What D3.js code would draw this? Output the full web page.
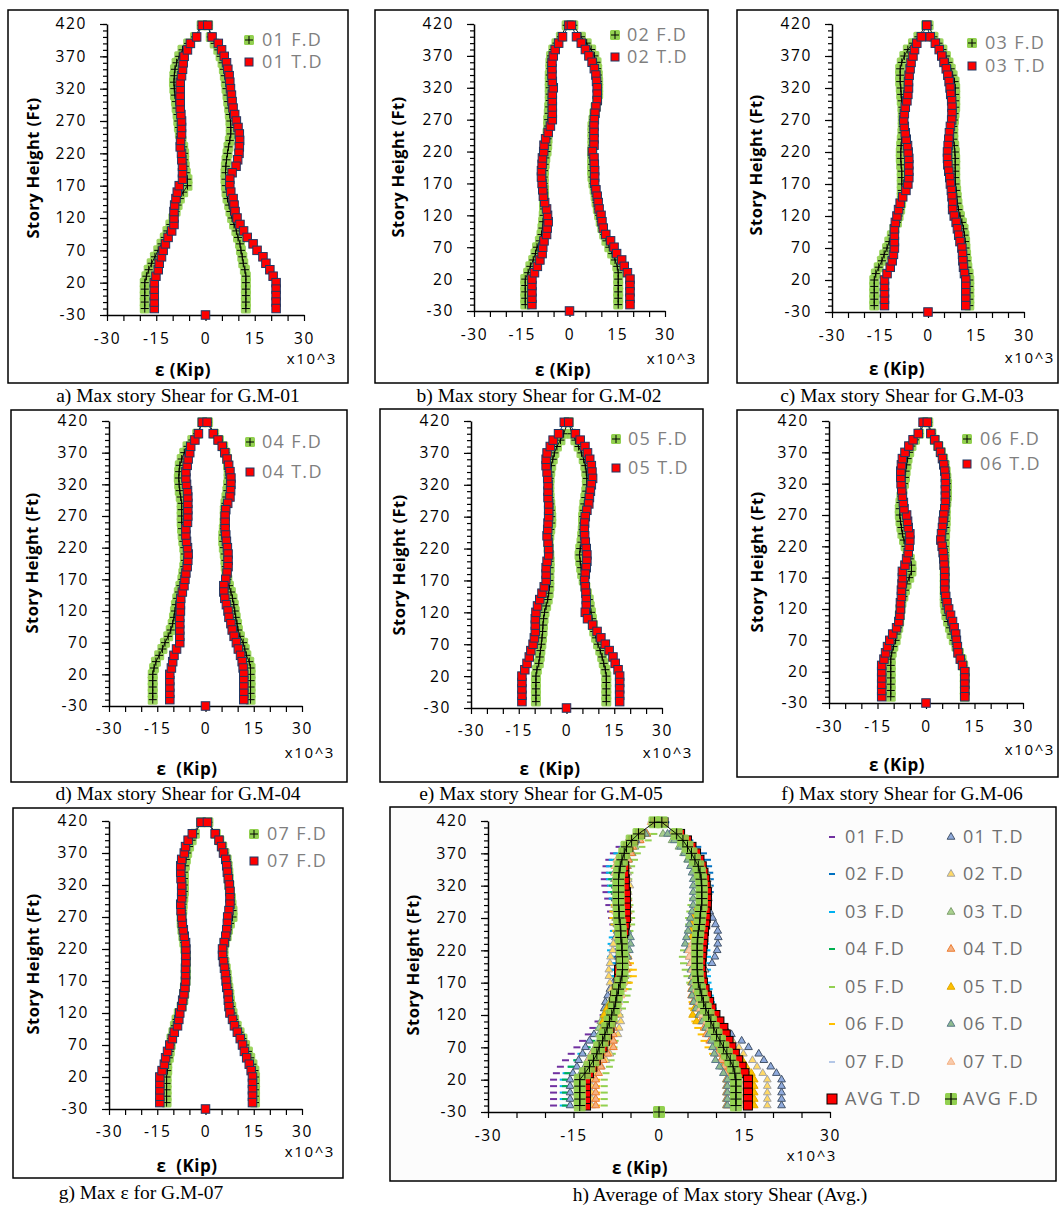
<!DOCTYPE html>
<html>
<head>
<meta charset="utf-8">
<script src="https://cdn.jsdelivr.net/npm/d3@7"></script>
<style>
  body { margin: 0; background: #fff; }
  text { font-family: "Open Sans", sans-serif; }
</style>
</head>
<body>
<svg id="fig" width="1061" height="1206"></svg>
<script>
// story levels (ft): -20 .. 400 every 10, then roof
const heights = [-20, -10, 0, 10, 20, 30, 40, 50, 60, 70, 80, 90, 100, 110, 120, 130, 140, 150, 160, 170,
  180, 190, 200, 210, 220, 230, 240, 250, 260, 270, 280, 290, 300, 310, 320, 330, 340, 350, 360, 370,
  380, 390, 400, 418];
const basePoint = [0, -30];

const yTicks = [420, 370, 320, 270, 220, 170, 120, 70, 20, -30];
const yMinorTicks = [-30, -20, -10, 0, 10, 20, 30, 40, 50, 60, 70, 80, 90, 100, 110, 120, 130, 140, 150, 160,
  170, 180, 190, 200, 210, 220, 230, 240, 250, 260, 270, 280, 290, 300, 310, 320, 330, 340, 350, 360,
  370, 380, 390, 400, 410, 420];
const xTicks = [-30, -15, 0, 15, 30];
const xMinorTicks = [-30, -25, -20, -15, -10, -5, 0, 5, 10, 15, 20, 25, 30];

// G.M-01
const fdLeft01 = [-18.5, -18.5, -18.5, -18.5, -18.5, -18.0, -17.3, -16.4, -15.4, -14.4, -13.4, -12.4, -11.6, -10.7, -9.8,
  -9.1, -8.5, -7.8, -6.8, -5.5, -5.5, -6.0, -6.3, -6.5, -6.5, -6.8, -7.3, -7.8, -8.1, -8.3,
  -8.5, -8.8, -9.0, -9.3, -9.5, -9.6, -9.5, -9.3, -8.8, -8.0, -7.0, -5.3, -3.2, -1.2];
const fdRight01 = [12.3, 12.3, 12.3, 12.3, 12.3, 12.3, 12.0, 11.5, 11.2, 10.8, 10.5, 9.9, 9.4, 8.7, 8.1,
  7.6, 7.2, 6.7, 6.4, 6.2, 6.1, 6.1, 6.2, 6.4, 6.7, 7.0, 7.4, 7.7, 7.7, 7.6,
  7.4, 7.2, 6.9, 6.7, 6.4, 6.2, 5.9, 5.6, 5.2, 4.6, 3.9, 2.8, 1.6, 0.8];
const tdLeft01 = [-15.6, -15.6, -15.6, -15.6, -15.6, -15.1, -14.4, -14.1, -13.4, -12.9, -12.2, -11.4, -10.3, -9.6, -9.6,
  -9.6, -9.4, -9.0, -8.6, -8.0, -7.0, -7.0, -7.0, -7.2, -7.3, -7.7, -7.6, -7.3, -7.3, -7.3,
  -7.5, -7.7, -7.7, -7.7, -7.7, -7.7, -7.3, -7.0, -6.8, -6.5, -5.5, -4.6, -2.7, -1.0];
const tdRight01 = [21.5, 21.5, 21.5, 21.5, 21.5, 20.6, 19.6, 18.4, 17.5, 15.7, 14.5, 12.7, 11.6, 10.5, 9.6,
  9.0, 8.7, 8.4, 7.7, 7.4, 7.4, 8.1, 9.3, 9.8, 10.2, 10.3, 10.4, 10.3, 9.9, 9.4,
  8.9, 8.4, 8.1, 7.9, 7.6, 7.4, 7.2, 6.8, 6.4, 5.7, 4.9, 3.9, 2.0, 0.7];

// G.M-02
const fdLeft02 = [-13.9, -13.9, -13.9, -13.9, -13.9, -13.0, -12.3, -11.4, -10.7, -10.2, -9.3, -8.8, -8.5, -8.3, -8.1,
  -8.0, -8.0, -8.0, -8.0, -8.1, -8.1, -8.0, -7.8, -7.6, -7.2, -7.0, -6.9, -6.9, -6.7, -6.7,
  -6.5, -6.4, -6.2, -6.2, -6.2, -6.2, -6.2, -6.0, -6.0, -5.8, -5.1, -4.1, -2.7, -0.9];
const fdRight02 = [15.3, 15.3, 15.3, 15.3, 15.3, 15.3, 15.0, 14.3, 13.4, 12.5, 11.6, 10.9, 10.3, 9.8, 9.3,
  8.9, 8.5, 8.2, 7.9, 7.5, 7.2, 7.1, 7.1, 7.1, 7.1, 7.2, 7.2, 7.2, 7.2, 7.5,
  7.8, 8.2, 8.7, 9.0, 9.0, 9.0, 8.9, 8.7, 8.5, 7.8, 6.8, 5.4, 3.6, 1.2];
const tdLeft02 = [-11.8, -11.8, -11.8, -11.8, -11.8, -11.0, -10.1, -9.3, -8.6, -8.4, -8.0, -7.2, -7.0, -6.7, -6.9,
  -7.2, -7.8, -8.2, -8.4, -8.6, -8.8, -8.8, -8.6, -8.5, -8.1, -8.0, -7.5, -6.7, -6.0, -5.4,
  -5.4, -5.4, -5.4, -5.4, -5.1, -5.4, -5.5, -5.5, -5.5, -5.1, -4.5, -3.4, -2.2, -0.2];
const tdRight02 = [19.0, 19.0, 19.0, 19.0, 19.0, 18.2, 17.2, 16.4, 14.8, 14.0, 12.9, 11.4, 10.6, 10.2, 9.9,
  9.3, 9.0, 8.7, 8.3, 7.9, 7.9, 7.9, 7.8, 7.7, 7.2, 7.7, 7.7, 7.7, 7.7, 7.8,
  8.0, 8.3, 8.7, 8.7, 8.7, 8.5, 8.3, 7.8, 7.1, 6.1, 5.0, 3.7, 2.2, 0.6];

// G.M-03
const fdLeft03 = [-16.8, -16.8, -16.8, -16.8, -16.8, -16.3, -15.4, -14.4, -13.7, -12.8, -12.1, -11.3, -10.5, -9.7, -9.2,
  -8.7, -8.4, -8.2, -8.2, -8.2, -8.2, -8.2, -8.4, -8.5, -8.5, -8.4, -8.2, -8.0, -7.9, -7.9,
  -7.9, -8.0, -8.2, -8.4, -8.5, -8.7, -8.7, -8.7, -8.2, -7.4, -6.3, -4.7, -3.0, -0.6];
const fdRight03 = [12.9, 12.9, 12.9, 12.9, 12.9, 12.7, 12.3, 12.1, 11.9, 11.7, 11.6, 11.4, 11.1, 10.6, 10.0,
  9.5, 9.2, 9.0, 8.8, 8.6, 8.5, 8.5, 8.5, 8.5, 8.4, 8.2, 7.9, 7.9, 7.9, 8.1,
  8.3, 8.5, 8.5, 8.5, 8.5, 8.3, 7.7, 7.1, 6.4, 5.6, 4.5, 3.3, 1.7, 0.2];
const tdLeft03 = [-13.6, -13.6, -13.6, -13.6, -13.6, -12.8, -11.8, -11.2, -10.8, -10.5, -10.5, -10.5, -10.5, -10.2, -9.7,
  -9.2, -8.7, -7.9, -6.9, -6.3, -6.0, -6.0, -6.0, -6.0, -6.2, -6.4, -6.8, -7.1, -7.4, -7.6,
  -7.4, -7.1, -6.6, -6.3, -6.1, -6.1, -5.9, -5.6, -5.3, -4.7, -4.2, -3.5, -2.1, -0.4];
const tdRight03 = [11.8, 11.8, 11.8, 11.8, 11.8, 11.4, 11.1, 10.9, 10.8, 10.6, 10.0, 9.6, 9.2, 8.8, 8.2,
  7.7, 7.7, 7.5, 7.3, 7.0, 6.8, 6.5, 6.2, 6.1, 6.1, 6.3, 6.5, 6.7, 7.0, 7.4,
  7.5, 7.5, 7.4, 7.1, 6.9, 6.6, 6.2, 5.7, 5.0, 4.3, 3.5, 2.3, 0.7, -0.4];

// G.M-04
const fdLeft04 = [-16.4, -16.4, -16.4, -16.4, -16.4, -16.0, -15.4, -14.4, -13.4, -12.6, -11.6, -10.8, -10.2, -9.8, -9.5,
  -9.2, -8.8, -8.3, -7.8, -7.2, -6.9, -6.6, -6.4, -6.4, -6.6, -6.9, -7.1, -7.3, -7.4, -7.4,
  -7.4, -7.4, -7.7, -8.0, -8.2, -8.3, -8.2, -8.0, -7.4, -6.6, -5.6, -4.1, -2.6, -1.0];
const fdRight04 = [14.0, 14.0, 14.0, 14.0, 14.0, 14.0, 13.6, 12.7, 12.2, 11.7, 10.7, 10.1, 9.8, 9.4, 9.1,
  8.8, 8.4, 7.9, 7.3, 6.8, 6.5, 6.3, 6.2, 6.0, 5.7, 5.5, 5.5, 5.7, 5.9, 6.0,
  6.0, 6.2, 6.5, 6.8, 7.0, 7.2, 7.2, 7.0, 6.7, 6.2, 5.5, 4.2, 2.7, 0.8];
const tdLeft04 = [-11.1, -11.1, -11.1, -11.1, -11.1, -10.6, -10.2, -9.8, -9.0, -8.0, -8.0, -8.0, -8.0, -8.0, -7.8,
  -7.8, -7.7, -7.2, -6.7, -6.4, -6.1, -5.7, -5.5, -5.4, -5.6, -5.9, -6.1, -6.1, -5.6, -5.5,
  -5.5, -5.5, -5.5, -5.6, -5.9, -6.1, -6.1, -5.7, -5.4, -4.9, -4.6, -3.3, -2.2, -1.0];
const tdRight04 = [11.9, 11.9, 11.9, 11.9, 11.9, 11.7, 11.4, 10.9, 10.2, 9.6, 8.9, 8.3, 7.9, 7.3, 7.0,
  6.5, 6.0, 5.7, 5.7, 6.3, 6.7, 7.0, 7.0, 7.0, 6.8, 6.5, 6.3, 6.1, 6.1, 6.1,
  6.3, 6.9, 7.6, 7.8, 7.9, 7.9, 7.6, 7.2, 6.7, 6.0, 5.2, 3.9, 2.4, 0.5];

// G.M-05
const fdLeft05 = [-9.6, -9.6, -9.6, -9.6, -9.6, -9.3, -8.7, -8.4, -8.2, -7.9, -7.7, -7.5, -7.4, -7.2, -6.9,
  -6.4, -5.9, -5.6, -5.4, -5.4, -5.4, -5.3, -5.3, -5.4, -5.6, -5.6, -5.4, -5.1, -4.8, -4.8,
  -4.9, -5.1, -5.3, -5.4, -5.4, -5.3, -5.1, -4.8, -4.3, -3.8, -3.0, -1.9, -0.9, 0.4];
const fdRight05 = [12.5, 12.5, 12.5, 12.5, 12.5, 12.2, 11.7, 11.2, 10.6, 9.9, 9.3, 8.7, 8.3, 8.0, 7.7,
  7.3, 7.0, 6.4, 5.9, 5.4, 4.9, 4.6, 4.3, 4.1, 4.3, 4.7, 4.9, 5.1, 5.2, 5.2,
  5.4, 5.6, 5.9, 6.2, 6.4, 6.4, 6.2, 5.9, 5.4, 4.7, 3.8, 2.8, 1.7, 0.7];
const tdLeft05 = [-14.0, -14.0, -14.0, -14.0, -14.0, -13.1, -12.4, -11.7, -11.2, -10.5, -10.1, -9.8, -9.8, -9.8, -9.6,
  -9.1, -8.4, -7.7, -7.0, -6.4, -6.4, -6.4, -6.1, -5.6, -5.6, -5.8, -6.1, -5.9, -5.8, -5.6,
  -5.6, -5.6, -5.8, -5.8, -5.8, -5.9, -6.1, -6.4, -6.4, -6.1, -5.1, -4.2, -2.5, -0.7];
const tdRight05 = [16.7, 16.7, 16.7, 16.7, 16.7, 16.2, 15.3, 14.6, 13.4, 12.2, 10.8, 9.6, 8.2, 6.6, 5.9,
  6.2, 6.2, 6.1, 5.9, 5.7, 5.9, 6.2, 6.4, 6.4, 6.2, 5.9, 5.7, 5.6, 5.7, 5.9,
  6.4, 7.0, 7.2, 7.5, 7.8, 8.2, 8.0, 7.8, 7.3, 6.6, 5.8, 4.3, 2.8, 0.7];

// G.M-06
const fdLeft06 = [-10.9, -10.9, -10.9, -10.9, -10.9, -10.9, -10.9, -10.6, -10.1, -9.4, -9.1, -8.6, -8.3, -8.1, -7.9,
  -7.6, -7.0, -6.5, -6.0, -5.2, -4.5, -4.5, -5.0, -5.7, -6.3, -6.8, -7.3, -7.6, -7.9, -8.1,
  -8.1, -7.9, -7.6, -7.3, -6.8, -6.5, -6.3, -6.0, -5.7, -5.2, -4.5, -3.4, -2.1, -0.4];
const fdRight06 = [12.0, 12.0, 12.0, 12.0, 12.0, 11.5, 11.0, 10.2, 9.4, 8.6, 7.9, 7.4, 6.8, 6.3, 6.0,
  5.8, 5.8, 5.8, 5.8, 5.8, 5.8, 5.8, 5.8, 5.8, 5.8, 5.8, 5.9, 6.0, 6.1, 6.1,
  6.1, 6.3, 6.5, 6.5, 6.5, 6.3, 6.1, 5.8, 5.3, 4.6, 3.8, 2.7, 1.7, 0.7];
const tdLeft06 = [-13.7, -13.7, -13.7, -13.7, -13.7, -13.7, -13.0, -12.5, -11.9, -11.2, -10.3, -9.1, -8.4, -8.1, -7.9,
  -7.9, -7.6, -7.6, -7.4, -7.3, -7.3, -6.5, -6.0, -5.5, -5.2, -5.0, -5.0, -5.5, -5.7, -6.0,
  -6.8, -7.0, -7.3, -7.5, -7.7, -7.8, -7.8, -7.6, -7.3, -6.5, -5.3, -4.0, -2.4, -0.9];
const tdRight06 = [12.0, 12.0, 12.0, 12.0, 12.0, 11.3, 10.6, 9.9, 9.7, 9.4, 9.2, 8.7, 8.2, 7.6, 7.0,
  6.5, 6.1, 5.8, 5.8, 5.8, 5.8, 5.6, 5.5, 5.3, 5.0, 4.6, 4.8, 5.1, 5.3, 5.5,
  5.8, 6.0, 6.0, 6.0, 6.0, 6.0, 5.8, 5.5, 5.1, 4.5, 3.8, 2.7, 1.5, 0.4];

// G.M-07
const fdLeft07 = [-12.1, -12.1, -12.1, -12.1, -12.1, -11.9, -11.9, -11.4, -11.1, -10.8, -10.6, -10.0, -9.5, -9.0, -8.3,
  -7.4, -6.9, -6.6, -6.4, -6.2, -6.1, -6.1, -6.1, -6.1, -6.3, -6.6, -6.9, -7.2, -7.4, -7.4,
  -7.2, -7.1, -6.9, -6.7, -6.7, -6.7, -6.7, -6.4, -6.1, -5.7, -5.1, -4.3, -3.3, -1.4];
const fdRight07 = [15.4, 15.4, 15.4, 15.4, 15.4, 15.2, 14.6, 13.9, 13.2, 12.3, 11.5, 10.6, 9.7, 8.9, 8.4,
  8.0, 7.6, 7.4, 7.1, 6.8, 6.6, 6.3, 5.9, 5.6, 5.6, 6.0, 6.6, 7.0, 7.6, 8.4,
  8.4, 8.1, 7.9, 7.6, 7.4, 7.2, 7.1, 6.9, 6.6, 5.9, 5.2, 4.3, 3.2, 0.9];
const tdLeft07 = [-14.2, -14.2, -14.2, -14.2, -14.2, -13.5, -12.8, -12.4, -11.8, -11.1, -10.3, -9.7, -8.7, -8.3, -8.0,
  -7.4, -7.1, -6.7, -6.4, -6.2, -6.2, -6.2, -6.1, -6.1, -6.1, -6.2, -6.6, -6.9, -7.2, -7.4,
  -7.6, -7.7, -7.4, -7.4, -7.4, -7.6, -7.7, -7.7, -7.4, -6.6, -6.2, -5.4, -4.1, -1.4];
const tdRight07 = [14.6, 14.6, 14.6, 14.6, 14.6, 14.2, 13.6, 12.8, 12.1, 11.5, 10.8, 9.9, 9.0, 8.4, 7.6,
  7.3, 7.1, 7.0, 6.6, 6.4, 6.2, 5.9, 5.6, 5.3, 5.3, 5.8, 6.3, 6.6, 6.8, 6.9,
  7.3, 7.6, 7.6, 7.6, 7.4, 7.1, 6.8, 6.6, 6.3, 5.6, 5.0, 4.2, 3.0, 0.6];

// averages
const avgFdLeft = [-13.9, -13.9, -13.9, -13.9, -13.9, -13.0, -12.2, -11.5, -10.9, -10.5, -9.9, -9.5, -9.1, -8.7, -8.3,
  -7.9, -7.6, -7.4, -7.1, -6.8, -6.5, -6.4, -6.4, -6.4, -6.5, -6.5, -6.7, -6.7, -6.8, -7.0,
  -7.0, -7.1, -7.1, -7.1, -7.1, -7.1, -7.0, -6.8, -6.5, -6.1, -5.7, -4.8, -3.6, -0.8];
const avgFdRight = [13.5, 13.5, 13.5, 13.5, 13.5, 13.3, 13.0, 12.5, 11.9, 11.3, 10.7, 10.1, 9.6, 9.1, 8.7,
  8.2, 7.8, 7.5, 7.2, 6.9, 6.8, 6.7, 6.7, 6.7, 6.7, 6.7, 6.8, 6.9, 7.1, 7.2,
  7.3, 7.5, 7.5, 7.5, 7.5, 7.4, 7.2, 6.9, 6.3, 5.7, 5.0, 4.2, 3.1, 0.5];
const avgTdLeft = [-12.8, -12.8, -12.8, -12.8, -12.8, -12.3, -11.7, -11.1, -10.5, -9.9, -9.5, -9.1, -8.7, -8.5, -8.3,
  -8.1, -7.9, -7.7, -7.4, -7.1, -7.0, -7.0, -6.7, -6.7, -6.5, -6.4, -6.3, -6.1, -6.0, -5.8,
  -5.8, -5.8, -5.8, -5.8, -6.0, -6.0, -6.1, -6.1, -6.3, -6.0, -5.4, -4.5, -3.3, -0.7];
const avgTdRight = [15.6, 15.6, 15.6, 15.6, 15.6, 15.0, 14.5, 13.9, 13.3, 12.7, 12.2, 11.7, 11.3, 10.6, 9.9,
  9.2, 8.8, 8.4, 8.0, 7.7, 7.5, 7.4, 7.4, 7.5, 7.6, 7.7, 7.8, 7.9, 8.1, 8.2,
  8.2, 8.4, 8.4, 8.4, 8.2, 8.1, 7.8, 7.5, 7.1, 6.5, 5.7, 4.9, 3.7, 0.8];

const gmNames = ["01", "02", "03", "04", "05", "06", "07"];
const fdLefts = [fdLeft01, fdLeft02, fdLeft03, fdLeft04, fdLeft05, fdLeft06, fdLeft07];
const fdRights = [fdRight01, fdRight02, fdRight03, fdRight04, fdRight05, fdRight06, fdRight07];
const tdLefts = [tdLeft01, tdLeft02, tdLeft03, tdLeft04, tdLeft05, tdLeft06, tdLeft07];
const tdRights = [tdRight01, tdRight02, tdRight03, tdRight04, tdRight05, tdRight06, tdRight07];
const legendPairs = [["01 F.D", "01 T.D"], ["02 F.D", "02 T.D"], ["03 F.D", "03 T.D"], ["04 F.D", "04 T.D"],
  ["05 F.D", "05 T.D"], ["06 F.D", "06 T.D"], ["07 F.D", "07 F.D"]];
const captions = ["a) Max story Shear for G.M-01", "b) Max story Shear for G.M-02", "c) Max story Shear for G.M-03",
  "d) Max story Shear for G.M-04", "e) Max story Shear for G.M-05", "f) Max story Shear for G.M-06",
  "g) Max ε for G.M-07"];
const xTitles = ["ε (Kip)", "ε (Kip)", "ε (Kip)", "ε  (Kip)", "ε  (Kip)", "ε (Kip)", "ε  (Kip)"];

// colours of the average panel series
const fdColors = ["#7030a0", "#0070c0", "#00b0f0", "#00b050", "#92d050", "#ffc000", "#b4c7e7"];
const tdFills = ["#8faadc", "#ffd966", "#a9d18e", "#f4b183", "#ffc000", "#8fbc8f", "#f8cbad"];
const tdStrokes = ["#44546a", "#a5a5a5", "#7f9f6f", "#ed7d31", "#e0a800", "#5a7a8a", "#f4b183"];

// panel layout (pixel positions)
const layout = [
  { box: [8, 10, 348, 383], xr: [107, 304], yr: [315, 24], leg: [249, 262, 40, 62], cap: [178, 395], yt: [33, 168], xt: [183, 370], x10: [337, 359], tk: 339 },
  { box: [375, 10, 708, 383], xr: [474, 665], yr: [311, 24], leg: [615, 627, 35, 57], cap: [539, 395], yt: [398, 167], xt: [563, 370], x10: [697, 359], tk: 335 },
  { box: [737, 10, 1058, 383], xr: [832, 1024], yr: [312, 24], leg: [972, 985, 43, 66], cap: [902, 395], yt: [756, 165], xt: [897, 369], x10: [1055, 358], tk: 336 },
  { box: [11, 410, 347, 782], xr: [109, 302], yr: [706, 421], leg: [250, 262, 442, 472], cap: [178, 793], yt: [32, 563], xt: [187, 769], x10: [335, 753], tk: 729 },
  { box: [380, 409, 703, 782], xr: [471, 662], yr: [708, 421], leg: [616, 628, 439, 468], cap: [541, 793], yt: [399, 565], xt: [550, 769], x10: [693, 753], tk: 731 },
  { box: [737, 410, 1058, 777], xr: [829, 1023], yr: [703, 421], leg: [967, 980, 439, 464], cap: [902, 793], yt: [757, 562], xt: [897, 765], x10: [1055, 750], tk: 727 },
  { box: [13, 808, 343, 1178], xr: [109, 302], yr: [1109, 821], leg: [254, 267, 834, 861], cap: [141, 1192], yt: [33, 964], xt: [187, 1166], x10: [335, 1152], tk: 1132 }
];
const avgLayout = { box: [390, 807, 1056, 1181], xr: [488, 830], yr: [1112, 821], cap: [720, 1194], yt: [413, 965], xt: [640, 1168], x10: [837, 1156], tk: 1136 };

const svg = d3.select("#fig");

function chainPoints(left, right) {
  let pts = heights.map((h, i) => [left[i], h]);
  let back = heights.map((h, i) => [right[i], h]).reverse();
  return pts.concat(back);
}

function drawFrame(g, p, caption, xTitle) {
  g.append("rect")
    .attr("x", p.box[0]).attr("y", p.box[1])
    .attr("width", p.box[2] - p.box[0]).attr("height", p.box[3] - p.box[1])
    .attr("fill", p.bg || "#fff").attr("stroke", "#000").attr("stroke-width", 1.5);

  g.append("text")
    .attr("x", p.cap[0]).attr("y", p.cap[1]).attr("dy", "0.35em")
    .attr("text-anchor", "middle")
    .style("font-family", "'Liberation Serif', serif")
    .style("font-size", "19.5px")
    .text(caption);

  g.append("text")
    .attr("transform", `translate(${p.yt[0]},${p.yt[1]}) rotate(-90)`)
    .attr("dy", "0.35em")
    .attr("text-anchor", "middle")
    .style("font-size", "16.5px").style("font-weight", "bold")
    .style("letter-spacing", "0.4px")
    .text("Story Height (Ft)");

  g.append("text")
    .attr("x", p.xt[0]).attr("y", p.xt[1]).attr("dy", "0.35em")
    .attr("text-anchor", "middle")
    .style("font-size", "17px").style("font-weight", "bold")
    .style("letter-spacing", "0.5px")
    .style("white-space", "pre")
    .text(xTitle);

  g.append("text")
    .attr("x", p.x10[0]).attr("y", p.x10[1]).attr("dy", "0.35em")
    .attr("text-anchor", "end")
    .style("font-size", "15px").style("letter-spacing", "1.6px")
    .text("x10^3");
}

function drawAxes(g, p, x, y) {
  g.append("g")
    .attr("transform", `translate(${p.xr[0]},0)`)
    .call(d3.axisLeft(y).tickValues(yMinorTicks).tickSize(4).tickSizeOuter(0).tickFormat(""))
    .call(a => a.select(".domain").remove());

  g.append("g")
    .attr("class", "axis")
    .attr("transform", `translate(${p.xr[0]},0)`)
    .call(d3.axisLeft(y).tickValues(yTicks).tickSize(7).tickPadding(13).tickSizeOuter(0).tickFormat(d => String(d)));

  let xa = g.append("g")
    .attr("class", "axis")
    .attr("transform", `translate(0,${p.yr[0]})`)
    .call(d3.axisBottom(x).tickValues(xMinorTicks).tickSize(6).tickSizeOuter(0)
      .tickFormat(d => xTicks.includes(d) ? String(d) : ""));
  xa.selectAll("text").attr("y", p.tk - p.yr[0]).attr("dy", "0.35em");

  g.selectAll(".tick line").attr("stroke", "#000").attr("stroke-width", 1.2);
  g.selectAll(".domain").attr("stroke", "#000").attr("stroke-width", 1.5);
  g.selectAll(".axis text")
    .attr("fill", "#000")
    .style("font-family", "'Open Sans', sans-serif")
    .style("font-size", "15.5px")
    .style("letter-spacing", "1.6px");
}

function fdMarkers(g, pts, x, y, size, plus) {
  g.append("g").selectAll("rect").data(pts).join("rect")
    .attr("x", d => x(d[0]) - size / 2).attr("y", d => y(d[1]) - size / 2)
    .attr("width", size).attr("height", size).attr("rx", 1.5)
    .attr("fill", "#92d050").attr("opacity", 0.9);
  g.append("path")
    .attr("d", d3.line().x(d => x(d[0])).y(d => y(d[1]))(pts))
    .attr("fill", "none").attr("stroke", "#000").attr("stroke-width", 0.9);
  plusMarks(g, pts, x, y, plus);
}

function plusMarks(g, pts, x, y, plus) {
  g.append("g").selectAll("path").data(pts).join("path")
    .attr("d", d => `M${x(d[0]) - plus / 2},${y(d[1])}H${x(d[0]) + plus / 2}M${x(d[0])},${y(d[1]) - plus / 2}V${y(d[1]) + plus / 2}`)
    .attr("stroke", "#000").attr("stroke-width", 1);
}

function tdMarkers(g, pts, x, y, size, stroke) {
  g.append("g").selectAll("rect").data(pts).join("rect")
    .attr("x", d => x(d[0]) - size / 2).attr("y", d => y(d[1]) - size / 2)
    .attr("width", size).attr("height", size)
    .attr("fill", "#ff0000").attr("stroke", stroke).attr("stroke-width", 1);
}

// panels a - g
layout.forEach((p, k) => {
  let g = svg.append("g");
  drawFrame(g, p, captions[k], xTitles[k]);

  let x = d3.scaleLinear().domain([-30, 30]).range(p.xr);
  let y = d3.scaleLinear().domain([-30, 420]).range(p.yr);
  drawAxes(g, p, x, y);

  let fd = chainPoints(fdLefts[k], fdRights[k]);
  let td = chainPoints(tdLefts[k], tdRights[k]);
  fdMarkers(g, fd, x, y, 10, 8);
  g.append("path")
    .attr("d", d3.line().x(d => x(d[0])).y(d => y(d[1]))(td))
    .attr("fill", "none").attr("stroke", "#1f3864").attr("stroke-width", 1);
  tdMarkers(g, td.concat([basePoint]), x, y, 8.5, "#1f3864");

  // legend
  let lx = p.leg[0];
  g.append("rect").attr("x", lx - 5).attr("y", p.leg[2] - 5).attr("width", 10).attr("height", 10)
    .attr("rx", 1.5).attr("fill", "#92d050");
  g.append("path").attr("d", `M${lx - 4},${p.leg[2]}H${lx + 4}M${lx},${p.leg[2] - 4}V${p.leg[2] + 4}`)
    .attr("stroke", "#000").attr("stroke-width", 1);
  g.append("rect").attr("x", lx - 4).attr("y", p.leg[3] - 4).attr("width", 8).attr("height", 8)
    .attr("fill", "#ff0000").attr("stroke", "#1f3864").attr("stroke-width", 1);
  [p.leg[2], p.leg[3]].forEach((ly, j) => {
    g.append("text")
      .attr("x", p.leg[1]).attr("y", ly).attr("dy", "0.35em")
      .style("font-size", "18px").style("letter-spacing", "1.3px")
      .attr("fill", "#7f7f7f")
      .text(legendPairs[k][j]);
  });
});

// panel h: all records and averages
{
  let p = avgLayout;
  p.bg = "#fcfcfc";
  let g = svg.append("g");
  drawFrame(g, p, "h) Average of Max story Shear (Avg.)", "ε (Kip)");

  let x = d3.scaleLinear().domain([-30, 30]).range(p.xr);
  let y = d3.scaleLinear().domain([-30, 420]).range(p.yr);
  drawAxes(g, p, x, y);

  gmNames.forEach((n, k) => {
    let pts = chainPoints(fdLefts[k], fdRights[k]);
    g.append("g").selectAll("line").data(pts).join("line")
      .attr("x1", d => x(d[0]) - 3.5).attr("x2", d => x(d[0]) + 3.5)
      .attr("y1", d => y(d[1])).attr("y2", d => y(d[1]))
      .attr("stroke", fdColors[k]).attr("stroke-width", 2);
  });
  let tri = d3.symbol(d3.symbolTriangle).size(26);
  gmNames.forEach((n, k) => {
    let pts = chainPoints(tdLefts[k], tdRights[k]);
    g.append("g").selectAll("path").data(pts).join("path")
      .attr("transform", d => `translate(${x(d[0])},${y(d[1])})`)
      .attr("d", tri)
      .attr("fill", tdFills[k]).attr("stroke", tdStrokes[k]).attr("stroke-width", 1);
  });

  let avgTd = chainPoints(avgTdLeft, avgTdRight);
  tdMarkers(g, avgTd, x, y, 9, "#000");
  let avgFd = chainPoints(avgFdLeft, avgFdRight);
  fdMarkers(g, avgFd, x, y, 12, 11);
  // lone base point of the average series
  g.append("rect")
    .attr("x", x(basePoint[0]) - 6).attr("y", y(basePoint[1]) - 6)
    .attr("width", 12).attr("height", 12).attr("rx", 1.5).attr("fill", "#92d050");
  plusMarks(g, [basePoint], x, y, 11);

  // legend: two columns, F.D left and T.D right
  const rowsY = [837, 874, 912, 949, 987, 1024, 1062, 1099];
  const legFont = sel => sel.style("font-size", "18px").style("letter-spacing", "1.3px").attr("fill", "#6f6f6f");
  gmNames.forEach((n, k) => {
    let ly = rowsY[k];
    g.append("line").attr("x1", 829).attr("x2", 835).attr("y1", ly).attr("y2", ly)
      .attr("stroke", fdColors[k]).attr("stroke-width", 2);
    g.append("path").attr("transform", `translate(951,${ly})`).attr("d", tri)
      .attr("fill", tdFills[k]).attr("stroke", tdStrokes[k]).attr("stroke-width", 1);
    g.append("text").attr("x", 845).attr("y", ly).attr("dy", "0.35em").call(legFont).text(n + " F.D");
    g.append("text").attr("x", 963).attr("y", ly).attr("dy", "0.35em").call(legFont).text(n + " T.D");
  });
  let ly = rowsY[7];
  g.append("rect").attr("x", 827).attr("y", ly - 5).attr("width", 10).attr("height", 10)
    .attr("fill", "#ff0000").attr("stroke", "#000").attr("stroke-width", 1);
  g.append("rect").attr("x", 945).attr("y", ly - 6).attr("width", 12).attr("height", 12)
    .attr("rx", 1.5).attr("fill", "#92d050");
  g.append("path").attr("d", `M${945},${ly}H${957}M${951},${ly - 6}V${ly + 6}`)
    .attr("stroke", "#000").attr("stroke-width", 1.2);
  g.append("text").attr("x", 845).attr("y", ly).attr("dy", "0.35em").call(legFont).text("AVG T.D");
  g.append("text").attr("x", 963).attr("y", ly).attr("dy", "0.35em").call(legFont).text("AVG F.D");
}
</script>
</body>
</html>
